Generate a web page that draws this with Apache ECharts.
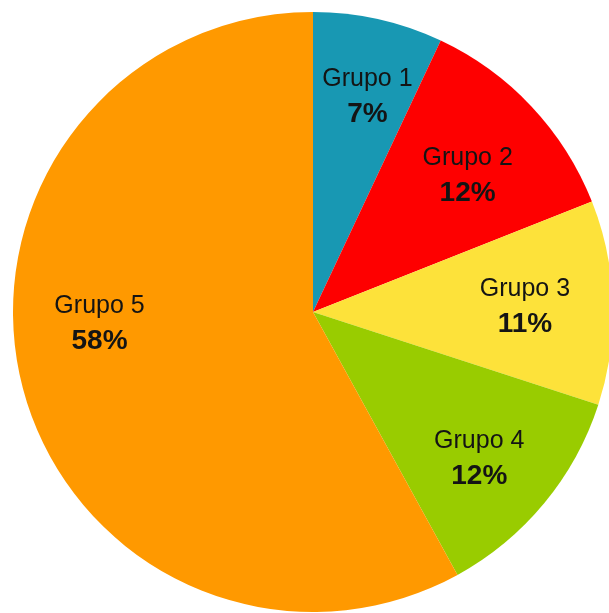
<!DOCTYPE html>
<html>
<head>
<meta charset="utf-8">
<script src="https://cdn.jsdelivr.net/npm/echarts@6/dist/echarts.min.js"></script>
<style>html,body{margin:0;padding:0;background:#fff}#c{width:609px;height:613px}</style>
</head>
<body>
<div id="c"></div>
<script>
const categories = ['Grupo 1', 'Grupo 2', 'Grupo 3', 'Grupo 4', 'Grupo 5'];
const values = [7, 12, 11, 12, 58];
const colors = ['#1898b3', '#fe0000', '#fde23a', '#99cc00', '#ff9900'];

// label nudges (layout only, pixels)
const labelNudge = [[9, -11], [3, 7], [4, 2], [6, 15], [-12, -39]];

const data = categories.map((n, i) => ({ name: n, value: values[i], itemStyle: { color: colors[i] } }));
const chart = echarts.init(document.getElementById('c'), null, { renderer: 'canvas' });
const font = 'Liberation Sans, Arial, Helvetica, sans-serif';
chart.setOption({
  animation: false,
  series: [
    {
      type: 'pie', center: [313, 312], radius: [0, 300], startAngle: 90, clockwise: true,
      data: data, label: { show: false }, labelLine: { show: false },
      itemStyle: { borderWidth: 0 }, emphasis: { disabled: true }, silent: true
    },
    {
      type: 'pie', center: [313, 312], radius: [110, 300], startAngle: 90, clockwise: true,
      data: data.map(d => ({ name: d.name, value: d.value })),
      itemStyle: { color: 'rgba(0,0,0,0)', borderWidth: 0 },
      emphasis: { disabled: true }, silent: true,
      labelLayout: p => ({ dx: labelNudge[p.dataIndex][0], dy: labelNudge[p.dataIndex][1] }),
      label: {
        show: true, position: 'inside', color: '#141414', fontFamily: font,
        formatter: p => '{n|' + p.name + '}\n{p|' + p.value + '%}',
        rich: {
          n: { fontSize: 25, lineHeight: 33, color: '#141414', fontFamily: font },
          p: { fontSize: 28, fontWeight: 'bold', lineHeight: 37, color: '#141414', fontFamily: font }
        }
      },
      labelLine: { show: false }
    }
  ]
});
</script>
</body>
</html>
